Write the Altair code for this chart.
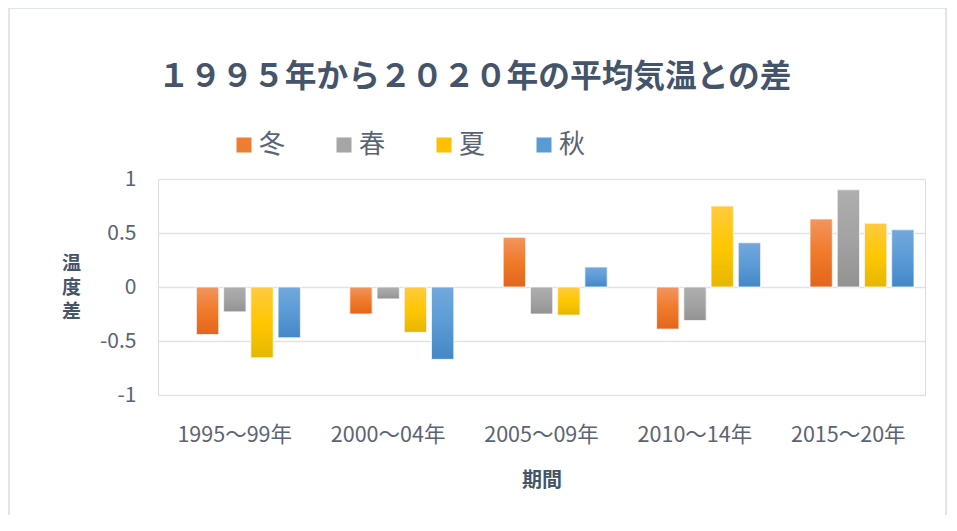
import altair as alt
import pandas as pd

periods = ["1995～99年", "2000～04年", "2005～09年", "2010～14年", "2015～20年"]
seasons = ["冬", "春", "夏", "秋"]
winter = [-0.44, -0.25, 0.46, -0.39, 0.63]
spring = [-0.23, -0.11, -0.25, -0.31, 0.90]
summer = [-0.655, -0.42, -0.26, 0.75, 0.59]
autumn = [-0.47, -0.67, 0.185, 0.41, 0.53]
base_colors = ["#ED7D31", "#A5A5A5", "#FFC000", "#5B9BD5"]
grad_stops = [
    ["#F2955E", "#F07A2A", "#E2661C"],
    ["#AEAEAE", "#A3A3A3", "#929292"],
    ["#FFCA40", "#FFC700", "#E6B700"],
    ["#72A8DD", "#5B9BD5", "#4487C7"],
]

rows = []
for s, vals in zip(seasons, [winter, spring, summer, autumn]):
    for p, v in zip(periods, vals):
        rows.append({"期間": p, "季節": s, "温度差": v})
df = pd.DataFrame(rows)

FONT = "Noto Sans CJK JP"
TXT = "#5A6475"
DARK = "#44546A"

x_enc = alt.X("期間:N", sort=periods, scale=alt.Scale(paddingInner=0, paddingOuter=0),
              axis=alt.Axis(title="期間", labelAngle=0, labelFontSize=21.5, labelColor=TXT,
                            labelFont=FONT, titleFont=FONT, titleFontSize=20,
                            titleFontWeight="bold", titleColor=DARK, titlePadding=25,
                            domain=False, ticks=False, labelPadding=29, grid=False))
xo_enc = alt.XOffset("季節:N", sort=seasons,
                     scale=alt.Scale(domain=seasons, range=[38.4, 142.4],
                                     paddingInner=0.18, paddingOuter=0))
y_enc = alt.Y("温度差:Q", scale=alt.Scale(domain=[-1, 1], nice=False),
              axis=alt.Axis(values=[-1, -0.5, 0, 0.5, 1],
                            labelExpr="toString(datum.value)",
                            title=["温", "度", "差"], titleAngle=0,
                            titleX=-87, titleY=84, titleAlign="center",
                            titleBaseline="middle", titleLineHeight=24,
                            titleFont=FONT, titleFontSize=19, titleFontWeight="bold",
                            titleColor=DARK, labelFont=FONT, labelFontSize=21,
                            labelColor=TXT, labelPadding=22, domain=False, ticks=False,
                            gridColor="#DFE3E8", gridWidth=1.5))

base = alt.Chart(df).mark_bar(stroke="#FBFBFB", strokeWidth=0.8).encode(
    x=x_enc, xOffset=xo_enc, y=y_enc,
    color=alt.Color("季節:N", sort=seasons,
                    scale=alt.Scale(domain=seasons, range=base_colors),
                    legend=alt.Legend(title=None, orient="none", direction="horizontal",
                                      legendX=73, legendY=-47, symbolType="square",
                                      symbolSize=225, symbolStrokeWidth=0,
                                      labelFontSize=26, labelFont=FONT, labelColor=TXT,
                                      labelOffset=2, columnPadding=45, padding=0)),
)

overlays = []
for s, stops in zip(seasons, grad_stops):
    grad = alt.LinearGradient(
        gradient="linear", x1=0, x2=0, y1=0, y2=1,
        stops=[alt.GradientStop(offset=0, color=stops[0]),
               alt.GradientStop(offset=0.5, color=stops[1]),
               alt.GradientStop(offset=1, color=stops[2])])
    overlays.append(
        alt.Chart(df).transform_filter(alt.datum["季節"] == s)
        .mark_bar(color=grad, stroke="#FBFBFB", strokeWidth=0.8)
        .encode(x=x_enc, xOffset=xo_enc, y=y_enc)
    )

border = alt.Chart(pd.DataFrame({"a": [0]})).mark_rect(
    fill=None, stroke="#D9DDE3", strokeWidth=1.5
).encode(x=alt.value(-149), x2=alt.value(788), y=alt.value(-171), y2=alt.value(360))

chart = alt.layer(base, *overlays, border).properties(
    width=767, height=216,
    autosize=alt.AutoSizeParams(type="none"),
    padding={"left": 150, "top": 171, "right": 22, "bottom": 120},
    title=alt.TitleParams("１９９５年から２０２０年の平均気温との差", anchor="start",
                          frame="group", font=FONT, fontSize=31.7, fontWeight="bold",
                          color=DARK, offset=0, dy=86),
).configure_view(stroke=None).configure(background="white")

chart.save("out.html", embed_options={"renderer": "svg", "actions": False})
